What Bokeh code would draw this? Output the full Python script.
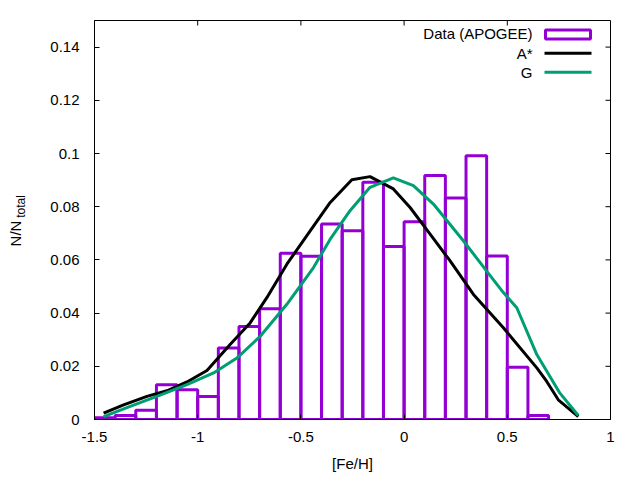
import math
from bokeh.plotting import figure
from bokeh.layouts import row
from bokeh.models import Range1d, Label, BoxAnnotation, FixedTicker
from bokeh.embed import file_html
from bokeh.resources import INLINE

# Histogram (APOGEE data), bins of width 0.1
bin_left = [-1.5, -1.4, -1.3, -1.2, -1.1, -1.0, -0.9, -0.8, -0.7, -0.6, -0.5,
            -0.4, -0.3, -0.2, -0.1, 0.0, 0.1, 0.2, 0.3, 0.4, 0.5, 0.6]
bin_right = [-1.4, -1.3, -1.2, -1.1, -1.0, -0.9, -0.8, -0.7, -0.6, -0.5, -0.4,
             -0.3, -0.2, -0.1, 0.0, 0.1, 0.2, 0.3, 0.4, 0.5, 0.6, 0.7]
hist_vals = [0.0007, 0.0015, 0.0035, 0.0131, 0.0112, 0.0086, 0.0269, 0.0350,
             0.0416, 0.0625, 0.0614, 0.0735, 0.0710, 0.0892, 0.0650, 0.0743,
             0.0917, 0.0833, 0.0992, 0.0615, 0.0196, 0.0015]

# Model A*
astar_x = [-1.456, -1.359, -1.246, -1.149, -1.052, -0.955, -0.843, -0.746, -0.665,
           -0.568, -0.455, -0.358, -0.253, -0.165, -0.052, 0.029, 0.126, 0.223,
           0.336, 0.481, 0.643, 0.691, 0.747, 0.844]
astar_y = [0.0024, 0.0055, 0.0087, 0.0108, 0.0141, 0.0184, 0.0282, 0.0363, 0.0458,
           0.0584, 0.0709, 0.0816, 0.0901, 0.0913, 0.0867, 0.0797, 0.0697, 0.0596,
           0.0470, 0.0345, 0.0194, 0.0143, 0.0074, 0.0011]

# Model G
g_x = [-1.456, -1.327, -1.198, -1.052, -0.923, -0.810, -0.697, -0.568, -0.439,
       -0.358, -0.262, -0.165, -0.052, 0.045, 0.142, 0.287, 0.400, 0.481, 0.546,
       0.643, 0.755, 0.844]
g_y = [0.0011, 0.0049, 0.0087, 0.0131, 0.0175, 0.0231, 0.0313, 0.0433, 0.0571,
       0.0678, 0.0785, 0.0873, 0.0908, 0.0879, 0.0810, 0.0672, 0.0558, 0.0477, 0.0420,
       0.0244, 0.0099, 0.0015]

x_ticks = [-1.5, -1.0, -0.5, 0.0, 0.5, 1.0]
x_tick_labels = ["-1.5", "-1", "-0.5", "0", "0.5", "1"]
y_ticks = [0.0, 0.02, 0.04, 0.06, 0.08, 0.10, 0.12, 0.14]
y_tick_labels = ["0", "0.02", "0.04", "0.06", "0.08", "0.1", "0.12", "0.14"]

X_MIN, X_MAX = -1.5, 1.0
Y_MIN, Y_MAX = 0.0, 0.15

PURPLE = "#9400D3"
GREEN = "#009E73"
FONT = "Liberation Sans"
FS = "15px"

H = 480
LW = 40            # width of the strip holding the y-axis title
W = 640 - LW       # main figure width
ML, MR, MT, MB = 94 - LW, 30, 20, 61

# the row layout aligns the strip's frame with the main frame,
# so both use the same bottom edge for screen units
FRAME_BOTTOM = H - MB

# ---- narrow strip with the rotated y-axis title N/N_total ----
lab = figure(width=LW, height=H, output_backend="svg", toolbar_location=None,
             x_axis_location=None, y_axis_location=None,
             x_range=Range1d(0, 1), y_range=Range1d(0, 1),
             min_border=0, min_border_left=0, min_border_right=0,
             min_border_top=0, min_border_bottom=0)
lab.outline_line_color = None
lab.xgrid.visible = False
lab.ygrid.visible = False
lab.background_fill_color = "white"
lab.border_fill_color = "white"
lab.add_layout(Label(x=15, y=FRAME_BOTTOM - 233, x_units="screen", y_units="screen", text="N/N",
                     angle=math.pi / 2, text_align="center", text_baseline="middle",
                     text_font=FONT, text_font_size=FS, text_color="black"))
lab.add_layout(Label(x=20, y=FRAME_BOTTOM - 206, x_units="screen", y_units="screen", text="total",
                     angle=math.pi / 2, text_align="center", text_baseline="middle",
                     text_font=FONT, text_font_size="12px", text_color="black"))

# ---- main plot ----
p = figure(width=W, height=H, output_backend="svg", toolbar_location=None,
           x_range=Range1d(X_MIN, X_MAX), y_range=Range1d(Y_MIN, Y_MAX),
           min_border_left=ML, min_border_right=MR, min_border_top=MT,
           min_border_bottom=MB)
p.background_fill_color = "white"
p.border_fill_color = "white"
p.outline_line_color = "black"
p.outline_line_width = 1
p.xgrid.visible = False
p.ygrid.visible = False

def style_axis(ax, ticks, labels, standoff):
    ax.ticker = FixedTicker(ticks=ticks)
    ax.major_label_overrides = {t: s for t, s in zip(ticks, labels)}
    ax.major_tick_in = 5
    ax.major_tick_out = 0
    ax.minor_tick_line_color = None
    ax.axis_line_color = "black"
    ax.major_tick_line_color = "black"
    ax.major_label_text_font = FONT
    ax.major_label_text_font_size = FS
    ax.major_label_text_font_style = "normal"
    ax.major_label_text_color = "black"
    ax.major_label_standoff = standoff

style_axis(p.xaxis[0], x_ticks, x_tick_labels, 12)
style_axis(p.yaxis[0], y_ticks, y_tick_labels, 15)
p.xaxis[0].axis_label = "[Fe/H]"
p.xaxis[0].axis_label_text_font = FONT
p.xaxis[0].axis_label_text_font_size = FS
p.xaxis[0].axis_label_text_font_style = "normal"
p.xaxis[0].axis_label_text_color = "black"
p.xaxis[0].axis_label_standoff = 10

# mirrored inward ticks on top and right edges (gnuplot style)
frame_w = W - ML - MR
frame_h = H - MT - MB
tick_px = 5
dy = tick_px * (Y_MAX - Y_MIN) / frame_h
dx = tick_px * (X_MAX - X_MIN) / frame_w
p.segment(x0=x_ticks, x1=x_ticks, y0=[Y_MAX] * len(x_ticks),
          y1=[Y_MAX - dy] * len(x_ticks), line_color="black", line_width=1)
p.segment(x0=[X_MAX] * len(y_ticks), x1=[X_MAX - dx] * len(y_ticks),
          y0=y_ticks, y1=y_ticks, line_color="black", line_width=1)

# histogram
p.quad(left=bin_left, right=bin_right, top=hist_vals, bottom=0,
       fill_color=None, line_color=PURPLE, line_width=3)

# models
p.line(astar_x, astar_y, line_color="black", line_width=3)
p.line(g_x, g_y, line_color=GREEN, line_width=3)

# screen units of annotations are relative to the frame (origin bottom-left);
# helpers convert page pixels to frame coordinates
def fx(px):
    return px - (LW + ML)

def fy(py):
    return FRAME_BOTTOM - py

# legend (gnuplot style: text right-aligned, sample on right)
rows_y = [33.3, 52.7, 71.7]
names = ["Data (APOGEE)", "A*", "G"]
for name, ry in zip(names, rows_y):
    p.add_layout(Label(x=fx(532), y=fy(ry), x_units="screen", y_units="screen",
                       text=name, text_align="right", text_baseline="middle",
                       text_font=FONT, text_font_size=FS, text_color="black"))
p.add_layout(BoxAnnotation(left=fx(545), right=fx(590), top=fy(29.5), bottom=fy(38.5),
                           left_units="screen", right_units="screen",
                           top_units="screen", bottom_units="screen",
                           fill_color=None, fill_alpha=0, line_color=PURPLE,
                           line_width=3, line_alpha=1))
for col, ry in zip(["black", GREEN], rows_y[1:]):
    p.add_layout(BoxAnnotation(left=fx(544), right=fx(591), top=fy(ry - 1.5), bottom=fy(ry + 1.5),
                               left_units="screen", right_units="screen",
                               top_units="screen", bottom_units="screen",
                               fill_color=col, fill_alpha=1, line_color=None, line_alpha=0))

layout = row(lab, p, spacing=0)
open("out.html", "w").write(file_html(layout, INLINE))
